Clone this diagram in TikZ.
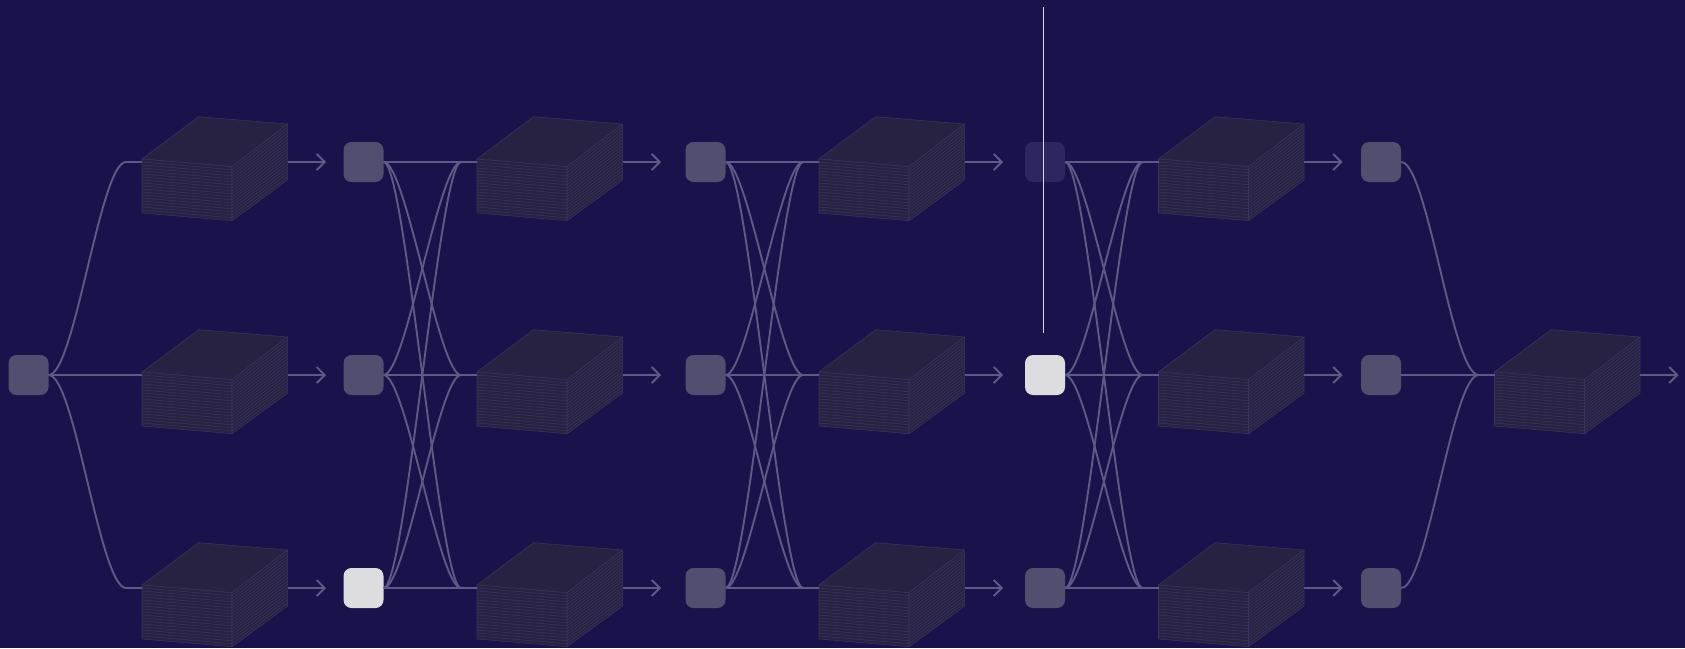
\documentclass[tikz,border=0pt]{standalone}
\usepackage{tikz}
\usetikzlibrary{arrows.meta}
\usetikzlibrary{calc}

\definecolor{night}{RGB}{26,19,75}
\definecolor{wirecol}{RGB}{94,90,134}
\definecolor{cellgrey}{RGB}{82,78,112}
\definecolor{cellwhite}{RGB}{221,221,224}
\definecolor{celldark}{RGB}{45,39,96}
\definecolor{slabfill}{RGB}{40,34,66}
\definecolor{slabedge}{RGB}{56,50,94}
\definecolor{slabhatch}{RGB}{60,54,98}
\definecolor{cutcol}{RGB}{216,216,236}

\begin{document}
\begin{tikzpicture}[x=1pt,y=-1pt,>={Straight Barb[length=8pt,width=16pt]},line join=round]
		\tikzstyle{cell}=[rectangle,rounded corners=8pt,minimum size=40pt,inner sep=0pt,fill=cellgrey];
		\tikzstyle{cellon}=[cell,fill=cellwhite];
		\tikzstyle{celloff}=[cell,fill=celldark];
		\tikzstyle{slab}=[fill=slabfill,draw=slabedge,line width=0.6pt];
		\tikzstyle{hatch}=[draw=slabhatch,line width=0.45pt];
		\tikzstyle{wire}=[draw=wirecol,line width=1.9pt];
		\path[use as bounding box,fill=night](0,0)rectangle(1685,648);

		% layer stacks
		\foreach \n/\bx/\y in {11/142/162,12/142/375,13/142/588,
				21/477/162,22/477/375,23/477/588,
				31/819/162,32/819/375,33/819/588,
				41/1158.5/162,42/1158.5/375,43/1158.5/588,
				52/1494.5/375}{
			\begin{scope}[shift={(\bx,\y-3)}]
				\filldraw[slab](0,0)--(56.6,-42.3)--(145.6,-35)--(90,7.7)--cycle;
				\filldraw[slab](0,0)--(90,7.7)--(90,61.7)--(0,54)--cycle;
				\filldraw[slab](90,7.7)--(145.6,-35)--(145.6,21)--(90,61.7)--cycle;
				\foreach \i in {1,...,17}
					\draw[hatch](0,{3*\i})--(90,{7.7+3*\i})--(145.6,{-35+3.11*\i});
				\coordinate(b\n)at(0,3);
				\coordinate(m\n)at(-16,3);
				\coordinate(o\n)at(145.6,3);
				\coordinate(a\n)at(184,3);
			\end{scope}
		}

		% cells
		\node[cell](s0)at(28.5,375){};
		\foreach \c/\x/\ka/\kb/\kc in {1/363.5/cell/cell/cellon,2/705.5/cell/cell/cell,
				3/1045/celloff/cellon/cell,4/1381/cell/cell/cell}{
			\node[\ka](s\c1)at(\x,162){};
			\node[\kb](s\c2)at(\x,375){};
			\node[\kc](s\c3)at(\x,588){};
		}

		% wiring
		\foreach \t in {1,2,3}
			\draw[wire](s0.east)..controls +(26,0) and +(-26,0)..(m1\t)--(b1\t);
		\foreach \k/\j in {1/2,2/3,3/4}
			\foreach \r in {1,2,3}
				\foreach \t in {1,2,3}
					\draw[wire](s\k\r.east)..controls +(22,0) and +(-22,0)..(m\j\t)--(b\j\t);
		\foreach \r in {1,2,3}
			\draw[wire](s4\r.east)..controls +(26,0) and +(-26,0)..(m52)--(b52);
		\foreach \n in {11,12,13,21,22,23,31,32,33,41,42,43,52}
			\draw[wire,->](o\n)--(a\n);

		\coordinate(cut0)at(1043.5,7);
		\coordinate(cut1)at(1043.5,333);
		\draw[cutcol,line width=1.5pt](cut0)--(cut1);
	\end{tikzpicture}
\end{document}
